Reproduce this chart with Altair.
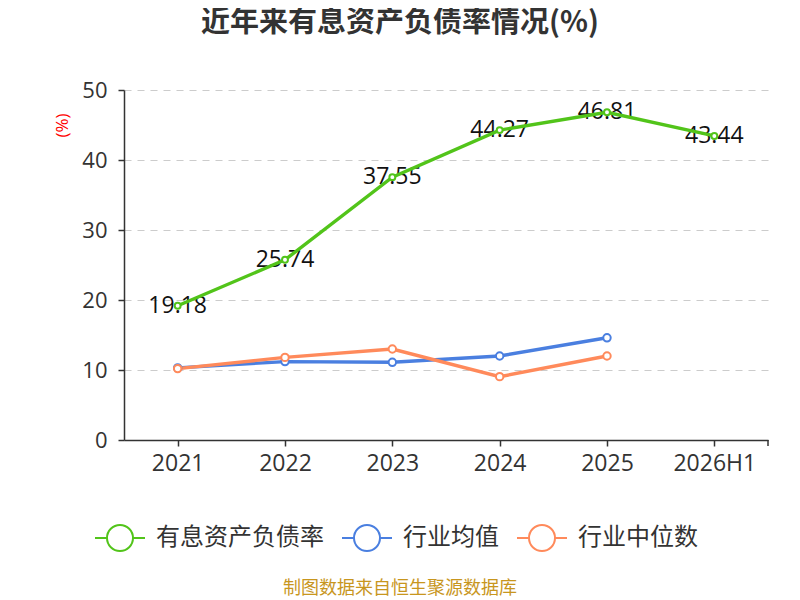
import altair as alt
import pandas as pd

periods = ["2021", "2022", "2023", "2024", "2025", "2026H1"]
series_names = ["有息资产负债率", "行业均值", "行业中位数"]
main_vals = [19.18, 25.74, 37.55, 44.27, 46.81, 43.44]
avg_vals = [10.3, 11.2, 11.1, 12.0, 14.6]
med_vals = [10.2, 11.8, 13.0, 9.05, 12.0]
colors = ["#52c41a", "#4a7fe0", "#ff8a5b"]

rows = []
for p, v in zip(periods, main_vals):
    rows.append({"period": p, "series": series_names[0], "value": v, "label": f"{v:.2f}"})
for p, v in zip(periods, avg_vals):
    rows.append({"period": p, "series": series_names[1], "value": v, "label": ""})
for p, v in zip(periods, med_vals):
    rows.append({"period": p, "series": series_names[2], "value": v, "label": ""})
df = pd.DataFrame(rows)

FONT = "Open Sans, Noto Sans CJK SC"
CJK = "Noto Sans CJK SC"
W, H = 644, 350

x_enc = alt.X("period:N", sort=periods,
              scale=alt.Scale(domain=periods, paddingInner=0, paddingOuter=0),
              axis=alt.Axis(title=None, bandPosition=0, labelAngle=0, labelFontSize=23,
                            labelColor="#333333", labelFont=FONT, labelPadding=6,
                            tickSize=6, tickColor="#333333", domainColor="#333333",
                            domainWidth=1.5, tickWidth=1.5, grid=False,
                            labelBound=False, labelFlush=False))
y_enc = alt.Y("value:Q",
              scale=alt.Scale(domain=[0, 50], nice=False, zero=True),
              axis=alt.Axis(title="(%)", values=[0, 10, 20, 30, 40, 50],
                            labelFontSize=22, labelColor="#333333", labelFont=FONT,
                            labelPadding=11, tickSize=6, tickColor="#333333",
                            tickWidth=1.5, domainColor="#333333", domainWidth=1.5,
                            grid=True, gridColor="#cccccc", gridDash=[7, 6],
                            gridWidth=1.2,
                            titleColor="#ff0000", titleFontSize=17, titleFontWeight="normal",
                            titleFont=FONT, titleAngle=270, titleX=-62, titleY=35,
                            titleAlign="center", titleBaseline="middle"))

stroke_scale = alt.Scale(domain=series_names, range=colors)
legend_symbol = "M-1,0L-0.52,0M0.52,0L1,0M0.52,0A0.52,0.52 0 1 1 -0.52,0A0.52,0.52 0 1 1 0.52,0Z"

base = alt.Chart(df)

lines = base.mark_line(strokeWidth=3.4).encode(
    x=x_enc, y=y_enc,
    stroke=alt.Stroke("series:N", scale=stroke_scale, sort=series_names,
                      legend=alt.Legend(title=None, orient="none", direction="horizontal",
                                        legendX=-30, legendY=422,
                                        symbolType=legend_symbol, symbolSize=2500,
                                        symbolStrokeWidth=2, symbolFillColor="white",
                                        labelFontSize=24, labelColor="#333333",
                                        labelFont=CJK, labelOffset=10, labelLimit=400,
                                        columnPadding=14)),
)

labels = base.transform_filter(alt.datum.label != "").mark_text(
    fontSize=23, font=FONT, color="#111111", baseline="middle", align="center"
).encode(x=x_enc, y=y_enc, text="label:N")

pts_main = base.transform_filter(alt.datum.series == series_names[0]).mark_point(
    shape="circle", filled=True, fill="white", size=35, strokeWidth=2, opacity=1
).encode(x=x_enc, y=y_enc,
         stroke=alt.Stroke("series:N", scale=stroke_scale, legend=None))

pts_ind = base.transform_filter(alt.datum.series != series_names[0]).mark_point(
    shape="circle", filled=True, fill="white", size=55, strokeWidth=2, opacity=1
).encode(x=x_enc, y=y_enc,
         stroke=alt.Stroke("series:N", scale=stroke_scale, legend=None))

end_tick = alt.Chart(pd.DataFrame({"a": [0]})).mark_rule(
    color="#333333", strokeWidth=1.5
).encode(x=alt.value(W), y=alt.value(H), y2=alt.value(H + 6))

source = alt.Chart(pd.DataFrame({"t": ["制图数据来自恒生聚源数据库"]})).mark_text(
    fontSize=18, font=CJK, color="#c8961e", align="center", baseline="middle"
).encode(x=alt.value(400 - 124), y=alt.value(589 - 90), text="t:N")

chart = alt.layer(labels, lines, pts_main, pts_ind, end_tick, source).properties(
    width=W, height=H,
    autosize=alt.AutoSizeParams(type="none"),
    padding={"left": 116, "top": 82, "right": 24, "bottom": 166},
    title=alt.TitleParams("近年来有息资产负债率情况(%)", anchor="middle", dx=-46,
                          offset=41, fontSize=29, font=CJK, fontWeight="bold",
                          color="#333333"),
).configure_view(stroke=None)

chart.save("out.html", embed_options={"renderer": "svg", "actions": False})
